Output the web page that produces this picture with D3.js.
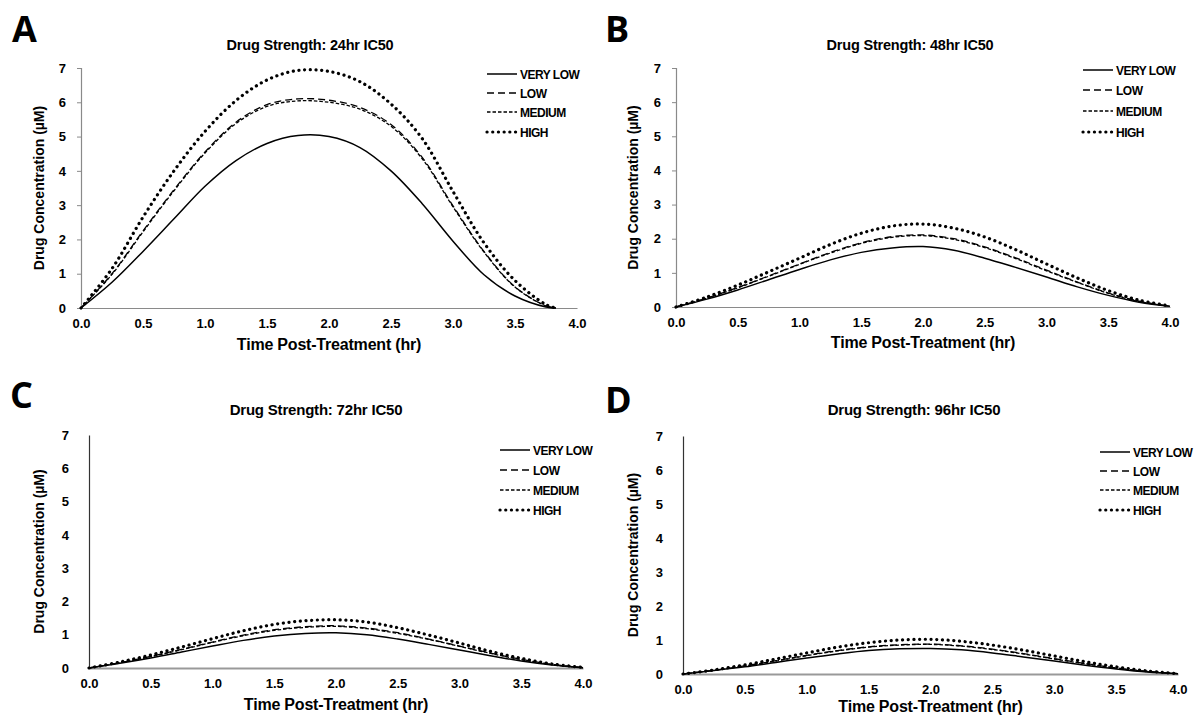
<!DOCTYPE html>
<html>
<head>
<meta charset="utf-8">
<script src="https://cdn.jsdelivr.net/npm/d3@7/dist/d3.min.js"></script>
<style>
  html, body { margin: 0; padding: 0; background: #fff; }
  svg { display: block; font-family: "Liberation Sans", Arial, sans-serif; }
</style>
</head>
<body>
<svg id="chart" width="1195" height="719"></svg>
<script>
// ---------------- DATA ----------------
const seriesNames = ["VERY LOW", "LOW", "MEDIUM", "HIGH"];
const panelLetters = ["A", "B", "C", "D"];
const panelTitles = ["Drug Strength: 24hr IC50", "Drug Strength: 48hr IC50", "Drug Strength: 72hr IC50", "Drug Strength: 96hr IC50"];
const xTickValues = [0, 0.5, 1, 1.5, 2, 2.5, 3, 3.5, 4];
const yTickValues = [0, 1, 2, 3, 4, 5, 6, 7];
const xLabel = "Time Post-Treatment (hr)";
const yLabel = "Drug Concentration (\u00B5M)";

// time points (hr)
const timeA = [0, 0.25, 0.5, 0.75, 1, 1.25, 1.5, 1.75, 2, 2.25, 2.5, 2.75, 3, 3.25, 3.5, 3.75, 3.83];
const timeBCD = [0, 0.25, 0.5, 0.75, 1, 1.25, 1.5, 1.75, 2, 2.25, 2.5, 2.75, 3, 3.25, 3.5, 3.75, 4];

// Panel A: 24hr IC50
const a_veryLow = [0, 0.75, 1.65, 2.6, 3.55, 4.3, 4.8, 5.03, 5.0, 4.68, 4.0, 3.05, 1.95, 0.97, 0.35, 0.03, 0];
const a_low     = [0, 1.0, 2.25, 3.45, 4.55, 5.42, 5.93, 6.1, 6.06, 5.85, 5.35, 4.4, 2.98, 1.65, 0.62, 0.06, 0];
const a_medium  = [0, 0.98, 2.22, 3.42, 4.52, 5.38, 5.88, 6.04, 6.0, 5.8, 5.3, 4.36, 2.95, 1.63, 0.61, 0.06, 0];
const a_high    = [0, 1.15, 2.65, 4.0, 5.15, 6.05, 6.65, 6.93, 6.9, 6.6, 5.95, 4.95, 3.4, 1.9, 0.8, 0.1, 0];

// Panel B: 48hr IC50
const b_veryLow = [0, 0.23, 0.5, 0.8, 1.1, 1.38, 1.6, 1.73, 1.77, 1.66, 1.43, 1.16, 0.88, 0.59, 0.34, 0.14, 0.02];
const b_low     = [0, 0.26, 0.57, 0.91, 1.26, 1.6, 1.88, 2.06, 2.11, 2.0, 1.76, 1.44, 1.08, 0.73, 0.41, 0.17, 0.02];
const b_medium  = [0, 0.26, 0.56, 0.9, 1.25, 1.58, 1.86, 2.04, 2.09, 1.98, 1.74, 1.42, 1.06, 0.72, 0.4, 0.16, 0.02];
const b_high    = [0, 0.29, 0.64, 1.03, 1.43, 1.83, 2.16, 2.37, 2.43, 2.31, 2.05, 1.68, 1.26, 0.85, 0.48, 0.2, 0.03];

// Panel C: 72hr IC50
const c_veryLow = [0, 0.14, 0.3, 0.48, 0.66, 0.83, 0.96, 1.04, 1.06, 1.0, 0.87, 0.71, 0.54, 0.37, 0.21, 0.09, 0.01];
const c_low     = [0, 0.16, 0.35, 0.56, 0.78, 0.99, 1.15, 1.24, 1.27, 1.2, 1.06, 0.87, 0.66, 0.45, 0.26, 0.11, 0.01];
const c_medium  = [0, 0.16, 0.34, 0.55, 0.77, 0.97, 1.13, 1.22, 1.25, 1.18, 1.04, 0.86, 0.65, 0.44, 0.25, 0.1, 0.01];
const c_high    = [0, 0.18, 0.39, 0.63, 0.88, 1.12, 1.31, 1.42, 1.45, 1.38, 1.21, 0.99, 0.75, 0.5, 0.29, 0.12, 0.02];

// Panel D: 96hr IC50
const d_veryLow = [0, 0.1, 0.21, 0.34, 0.47, 0.59, 0.69, 0.74, 0.75, 0.71, 0.62, 0.5, 0.38, 0.26, 0.15, 0.06, 0.01];
const d_low     = [0, 0.11, 0.24, 0.39, 0.55, 0.69, 0.8, 0.86, 0.88, 0.83, 0.73, 0.6, 0.45, 0.31, 0.18, 0.08, 0.01];
const d_medium  = [0, 0.11, 0.24, 0.38, 0.54, 0.68, 0.79, 0.85, 0.87, 0.82, 0.72, 0.59, 0.44, 0.3, 0.17, 0.07, 0.01];
const d_high    = [0, 0.12, 0.27, 0.44, 0.62, 0.79, 0.92, 1.0, 1.02, 0.96, 0.85, 0.7, 0.53, 0.36, 0.21, 0.09, 0.01];

// ---------------- LAYOUT / STYLE ----------------
const panelData = [
  { time: timeA,   series: [a_veryLow, a_low, a_medium, a_high] },
  { time: timeBCD, series: [b_veryLow, b_low, b_medium, b_high] },
  { time: timeBCD, series: [c_veryLow, c_low, c_medium, c_high] },
  { time: timeBCD, series: [d_veryLow, d_low, d_medium, d_high] }
];

const layouts = [
  { x0: 81,  x1: 577,  y0: 308, y7: 68,  letter: [12, 42],  titleX: 310, titleY: 50, titleSize: 14.5,
    legX: 487, legY: [74, 93, 112, 132], ticks: true,  yAxisColor: "#8a8a8a", xAxisColor: "#8a8a8a", xAxisW: 1.2,
    yLabX: 44, xLabY: 350, yTickPad: 11 },
  { x0: 676, x1: 1170, y0: 307, y7: 68, letter: [605, 42], titleX: 910, titleY: 50, titleSize: 14.5,
    legX: 1083, legY: [70, 90, 111, 132], ticks: true, yAxisColor: "#8a8a8a", xAxisColor: "#8a8a8a", xAxisW: 1.2,
    yLabX: 638, xLabY: 348, yTickPad: 11 },
  { x0: 89,  x1: 583,  y0: 668, y7: 435, letter: [10, 408], titleX: 316, titleY: 415, titleSize: 15,
    legX: 500, legY: [450, 470, 490, 510], ticks: false, yAxisColor: "#333", xAxisColor: "#999", xAxisW: 2,
    yLabX: 44, xLabY: 710, yTickPad: 20 },
  { x0: 683, x1: 1178, y0: 674, y7: 436, letter: [605, 413], titleX: 914, titleY: 415, titleSize: 15,
    legX: 1100, legY: [452, 471, 490, 510], ticks: false, yAxisColor: "#333", xAxisColor: "#999", xAxisW: 2,
    yLabX: 638, xLabY: 712, yTickPad: 20 }
];

const styles = [
  { dash: null,        width: 1.5, cap: "butt" },
  { dash: "7,4",       width: 1.3, cap: "butt" },
  { dash: "3.5,2",     width: 1.3, cap: "butt" },
  { dash: "0.1,5.6",   width: 3.2, cap: "round" }
];

const svg = d3.select("#chart");

panelData.forEach((pd, i) => {
  const L = layouts[i];
  const g = svg.append("g");
  const x = d3.scaleLinear().domain([0, 4]).range([L.x0, L.x1]);
  const y = d3.scaleLinear().domain([0, 7]).range([L.y0, L.y7]);

  // panel letter
  g.append("text").attr("x", L.letter[0]).attr("y", L.letter[1])
    .attr("font-family", "'Open Sans', 'Liberation Sans', sans-serif")
    .attr("font-size", 36).attr("font-weight", 700).attr("fill", "#000")
    .text(panelLetters[i]);

  // title
  g.append("text").attr("x", L.titleX).attr("y", L.titleY)
    .attr("text-anchor", "middle").attr("font-size", L.titleSize).attr("font-weight", 700)
    .attr("letter-spacing", -0.2)
    .text(panelTitles[i]);

  // y axis
  const yAxis = d3.axisLeft(y).tickValues(yTickValues).tickFormat(d3.format("d"))
    .tickSize(L.ticks ? 4 : 0).tickPadding(L.yTickPad);
  const yg = g.append("g").attr("transform", `translate(${L.x0},0)`).call(yAxis);
  yg.select(".domain").attr("stroke", L.yAxisColor).attr("stroke-width", 1.2);
  yg.selectAll(".tick line").attr("stroke", L.yAxisColor);
  yg.selectAll(".tick text").attr("font-size", 13).attr("font-weight", 700)
    .attr("fill", "#000").attr("font-family", "'Liberation Sans', Arial, sans-serif");

  // x axis
  const xAxis = d3.axisBottom(x).tickValues(xTickValues).tickFormat(d3.format(".1f"))
    .tickSize(0).tickPadding(11);
  const xg = g.append("g").attr("transform", `translate(0,${L.y0})`).call(xAxis);
  xg.select(".domain").attr("stroke", L.xAxisColor).attr("stroke-width", L.xAxisW);
  xg.selectAll(".tick text").attr("font-size", 13).attr("font-weight", 700)
    .attr("fill", "#000").attr("font-family", "'Liberation Sans', Arial, sans-serif");

  // axis labels
  g.append("text").attr("x", (L.x0 + L.x1) / 2).attr("y", L.xLabY)
    .attr("text-anchor", "middle").attr("font-size", 16).attr("font-weight", 700)
    .attr("letter-spacing", -0.2)
    .text(xLabel);
  g.append("text")
    .attr("transform", `translate(${L.yLabX},${(L.y0 + L.y7) / 2}) rotate(-90)`)
    .attr("text-anchor", "middle").attr("font-size", 14).attr("font-weight", 700)
    .text(yLabel);

  // lines
  const line = d3.line().x(d => x(d[0])).y(d => y(d[1])).curve(d3.curveCatmullRom.alpha(0.5));
  pd.series.forEach((vals, k) => {
    const pts = pd.time.map((t, j) => [t, vals[j]]);
    const st = styles[k];
    g.append("path").datum(pts).attr("d", line)
      .attr("fill", "none").attr("stroke", "#000")
      .attr("stroke-width", st.width).attr("stroke-linecap", st.cap)
      .attr("stroke-dasharray", st.dash);
  });

  // legend
  seriesNames.forEach((name, k) => {
    const ly = L.legY[k];
    const st = styles[k];
    g.append("line").attr("x1", L.legX).attr("x2", L.legX + 30)
      .attr("y1", ly).attr("y2", ly)
      .attr("stroke", "#000").attr("stroke-width", st.width)
      .attr("stroke-linecap", st.cap).attr("stroke-dasharray", st.dash);
    g.append("text").attr("x", L.legX + 33).attr("y", ly + 4.5)
      .attr("font-size", 12).attr("font-weight", 700).attr("letter-spacing", -0.5)
      .text(name);
  });
});
</script>
</body>
</html>
